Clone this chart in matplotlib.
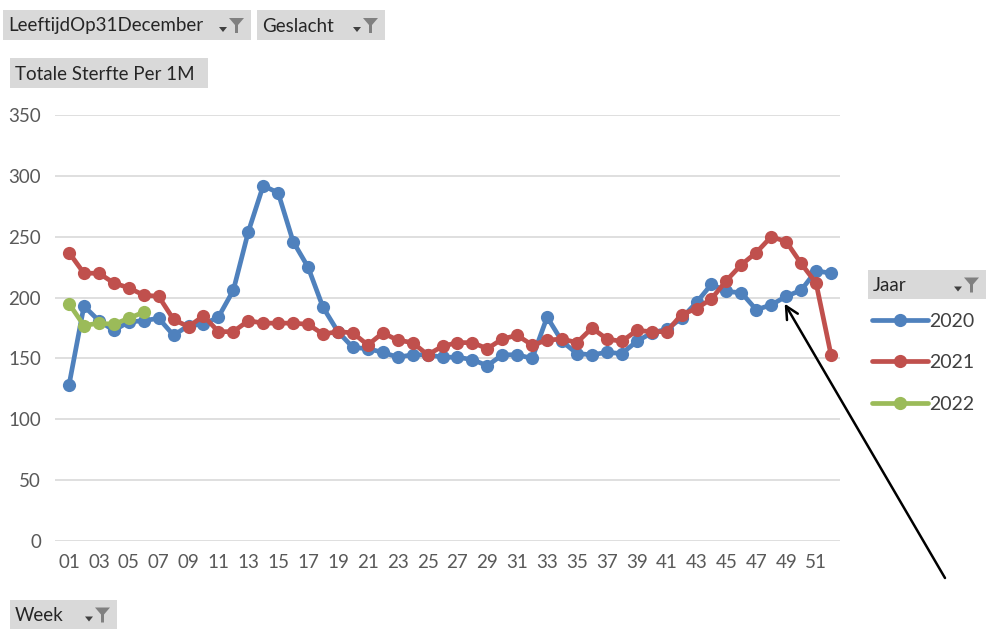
import matplotlib.pyplot as plt
from matplotlib.patches import Rectangle, Polygon

weeks = list(range(1, 53))
week_labels = ['%02d' % w for w in weeks]

sterfte_2020 = [128, 193, 181, 173, 180, 181, 183, 169, 177, 178, 184, 206, 254, 292, 286, 246,
                225, 192, 172, 159, 158, 155, 151, 153, 153, 151, 151, 149, 144, 153, 153, 150,
                184, 164, 154, 153, 155, 154, 164, 171, 174, 183, 196, 211, 205, 204, 190, 194,
                201, 206, 222, 220]
sterfte_2021 = [237, 220, 220, 212, 208, 202, 201, 182, 176, 185, 172, 172, 181, 179, 179, 179,
                178, 170, 172, 171, 161, 171, 165, 163, 153, 160, 163, 163, 158, 166, 169, 161,
                165, 166, 163, 175, 166, 164, 173, 172, 172, 186, 191, 199, 214, 227, 237, 250,
                246, 228, 212, 153]
sterfte_2022 = [195, 177, 179, 178, 183, 188]

jaren = ['2020', '2021', '2022']
kleuren = ['#4f81bd', '#c0504d', '#9bbb59']

W, H = 986, 629
plt.rcParams['font.family'] = ['Lato', 'DejaVu Sans']

fig = plt.figure(figsize=(W / 100, H / 100), dpi=100)
fig.patch.set_facecolor('white')


def px(x, y):
    # pixel coords (top-left origin) -> figure fraction
    return x / W, 1 - y / H


def knop(x0, y0, w, h, tekst, filter_icoon=True):
    fx, fy = px(x0, y0 + h)
    fig.add_artist(Rectangle((fx, fy), w / W, h / H, transform=fig.transFigure,
                             facecolor='#d9d9d9', edgecolor='none'))
    tx, ty = px(x0 + 5, y0 + h / 2 + 1)
    fig.text(tx, ty, tekst, fontsize=13.5, color='#262626', va='center', ha='left')
    if filter_icoon:
        fx0 = x0 + w - 22
        cy = y0 + h / 2
        # funnel
        pts = [(fx0, cy - 7), (fx0 + 15, cy - 7), (fx0 + 9, cy), (fx0 + 9, cy + 8),
               (fx0 + 6, cy + 8), (fx0 + 6, cy)]
        fig.add_artist(Polygon([px(*p) for p in pts], closed=True, transform=fig.transFigure,
                               facecolor='#808080', edgecolor='none'))
        # dropdown arrow
        ax0 = fx0 - 10
        tri = [(ax0, cy + 2), (ax0 + 8, cy + 2), (ax0 + 4, cy + 7)]
        fig.add_artist(Polygon([px(*p) for p in tri], closed=True, transform=fig.transFigure,
                               facecolor='#404040', edgecolor='none'))


ax = fig.add_axes([55 / W, (H - 541) / H, 785 / W, 426 / H])
series = [sterfte_2020, sterfte_2021, sterfte_2022]
lijnen = []
for jaar, vals, kleur in zip(jaren, series, kleuren):
    ln, = ax.plot(weeks[:len(vals)], vals, color=kleur, lw=3.4, marker='o', markersize=9.5,
                  markeredgewidth=0, label=jaar, solid_capstyle='round', zorder=3)
    lijnen.append(ln)

ax.set_ylim(0, 350)
ax.set_xlim(1 - 14 / 14.94, 52 + 9 / 14.94)
ax.set_yticks(range(0, 351, 50))
ax.set_xticks(weeks[::2])
ax.set_xticklabels(week_labels[::2])
ax.grid(axis='y', color='#d9d9d9', lw=1.2)
ax.set_axisbelow(True)
for s in ax.spines.values():
    s.set_visible(False)
ax.tick_params(length=0, labelsize=13.5, labelcolor='#595959')
ax.tick_params(axis='y', pad=10)
ax.tick_params(axis='x', pad=9)

knop(3, 10, 248, 30, 'LeeftijdOp31December')
knop(257, 10, 128, 30, 'Geslacht')
knop(10, 58, 198, 30, 'Totale Sterfte Per 1M', filter_icoon=False)
knop(10, 600, 107, 29, 'Week')
knop(868, 270, 118, 29, 'Jaar')

lx, ly = px(868, 309)
fig.legend(handles=lijnen, loc='upper left', bbox_to_anchor=(lx, ly), frameon=False,
           fontsize=14, labelcolor='#404040', handlelength=2.9, handletextpad=0.05,
           labelspacing=1.25, borderpad=0.2, borderaxespad=0)

# arrow pointing at week 49 of 2020
ax.annotate('', xy=(48.9, sterfte_2020[48] - 6), xycoords='data',
            xytext=px(945, 578), textcoords='figure fraction',
            arrowprops=dict(arrowstyle='->,head_length=0.9,head_width=0.45', lw=1.8,
                            color='black', shrinkA=0, shrinkB=0))

fig.savefig('out.png', dpi=100)
